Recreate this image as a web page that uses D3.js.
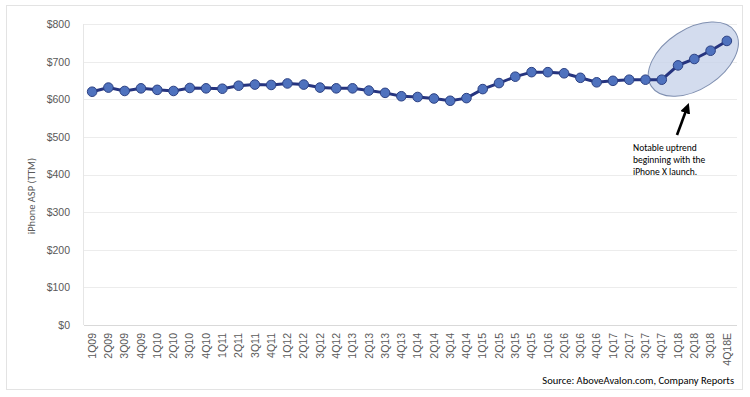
<!DOCTYPE html>
<html>
<head>
<meta charset="utf-8">
<script src="https://cdn.jsdelivr.net/npm/d3@7"></script>
<style>
  body { margin: 0; background: #fff; }
  svg { display: block; font-family: Carlito, Calibri, Lato, "Open Sans", sans-serif; }
</style>
</head>
<body>
<div id="chart"></div>
<script>
const quarters = ['1Q09','2Q09','3Q09','4Q09','1Q10','2Q10','3Q10','4Q10','1Q11','2Q11',
  '3Q11','4Q11','1Q12','2Q12','3Q12','4Q12','1Q13','2Q13','3Q13','4Q13',
  '1Q14','2Q14','3Q14','4Q14','1Q15','2Q15','3Q15','4Q15','1Q16','2Q16',
  '3Q16','4Q16','1Q17','2Q17','3Q17','4Q17','1Q18','2Q18','3Q18','4Q18E'];
const asp = [620, 631, 622, 629, 625, 622, 630, 629, 628, 636,
  639, 638, 642, 639, 631, 629, 629, 623, 617, 608,
  606, 602, 596, 603, 627, 643, 660, 672, 672, 669,
  657, 645, 649, 652, 652, 652, 690, 707, 729, 755];
const yTicks = [0, 100, 200, 300, 400, 500, 600, 700, 800];
const noteLines = ['Notable uptrend', 'beginning with the', 'iPhone X launch.'];
const highlightFrom = '1Q18';

const width = 750, height = 397;
const plot = { left: 84, right: 735, top: 24, bottom: 325 };

const svg = d3.select('#chart').append('svg')
  .attr('width', width)
  .attr('height', height);

// chart frame
svg.append('rect')
  .attr('x', 6.5).attr('y', 5.5)
  .attr('width', 736).attr('height', 384)
  .attr('fill', '#fff')
  .attr('stroke', '#e3e3e3');

const x = d3.scaleBand().domain(quarters).range([plot.left, plot.right]);
const y = d3.scaleLinear().domain([0, 800]).range([plot.bottom, plot.top]);
const cx = d => x(d) + x.bandwidth() / 2;

// gridlines
svg.append('g')
  .selectAll('line')
  .data(yTicks)
  .enter()
  .append('line')
  .attr('x1', plot.left).attr('x2', plot.right + 2)
  .attr('y1', d => Math.round(y(d)) + 0.5)
  .attr('y2', d => Math.round(y(d)) + 0.5)
  .attr('stroke', d => d === 0 ? '#d9d9d9' : '#ececec');

svg.append('line')
  .attr('x1', plot.left - 0.5).attr('x2', plot.left - 0.5)
  .attr('y1', plot.top).attr('y2', plot.bottom)
  .attr('stroke', '#e6e6e6');

// y axis
const yAxis = svg.append('g')
  .attr('transform', `translate(${plot.left - 11},0)`)
  .call(d3.axisLeft(y).tickValues(yTicks).tickSize(0).tickFormat(d => '$' + d));
yAxis.select('.domain').remove();
yAxis.selectAll('text')
  .attr('fill', '#595959')
  .style('font-size', '10.5px');

// x axis
const xAxis = svg.append('g')
  .attr('transform', `translate(0,${plot.bottom + 6})`)
  .call(d3.axisBottom(x).tickSize(0));
xAxis.select('.domain').remove();
xAxis.selectAll('text')
  .attr('fill', '#595959')
  .style('font-size', '10.5px')
  .style('text-anchor', 'end')
  .attr('dy', '0.35em')
  .attr('transform', 'rotate(-90)')
  .attr('x', -2)
  .attr('y', 0);

// axis title
svg.append('text')
  .attr('transform', 'translate(35,196)rotate(-90)')
  .attr('text-anchor', 'middle')
  .attr('fill', '#595959')
  .style('font-size', '10.5px')
  .text('iPhone ASP (TTM)');

// highlight ellipse around the recent quarters
const hiIdx = quarters.indexOf(highlightFrom);
const hiPts = quarters.slice(hiIdx - 1).map((q, i) => [cx(q), y(asp[hiIdx - 1 + i])]);
const ex = d3.mean(hiPts, p => p[0]) - 1;
const ey = d3.mean(hiPts, p => p[1]);
svg.append('ellipse')
  .attr('transform', `translate(${ex},${ey})rotate(-33)`)
  .attr('rx', 50).attr('ry', 30)
  .attr('fill', '#c8d3ea')
  .attr('fill-opacity', 0.8)
  .attr('stroke', '#7f8fb0')
  .attr('stroke-width', 1);

// line
const line = d3.line()
  .x((d, i) => cx(quarters[i]))
  .y(d => y(d));

svg.append('path')
  .datum(asp)
  .attr('fill', 'none')
  .attr('stroke', '#26347f')
  .attr('stroke-width', 3)
  .attr('d', line);

svg.append('g')
  .selectAll('circle')
  .data(asp)
  .enter()
  .append('circle')
  .attr('cx', (d, i) => cx(quarters[i]))
  .attr('cy', d => y(d))
  .attr('r', 4.8)
  .attr('fill', '#4f72be')
  .attr('stroke', '#2c4183')
  .attr('stroke-width', 1);

// annotation arrow
svg.append('defs').append('marker')
  .attr('id', 'head')
  .attr('viewBox', '0 0 10 10')
  .attr('refX', 5).attr('refY', 5)
  .attr('markerWidth', 4).attr('markerHeight', 4)
  .attr('orient', 'auto')
  .append('path')
  .attr('d', 'M0,0L10,5L0,10Z')
  .attr('fill', '#000');

svg.append('line')
  .attr('x1', 677).attr('y1', 135)
  .attr('x2', 687).attr('y2', 108)
  .attr('stroke', '#000')
  .attr('stroke-width', 2.6)
  .attr('marker-end', 'url(#head)');

svg.append('g')
  .selectAll('text')
  .data(noteLines)
  .enter()
  .append('text')
  .attr('x', 633)
  .attr('y', (d, i) => 151 + i * 12)
  .attr('fill', '#000')
  .style('font-size', '9.5px')
  .text(d => d);

// source
svg.append('text')
  .attr('x', 734).attr('y', 384)
  .attr('text-anchor', 'end')
  .attr('fill', '#000')
  .style('font-size', '10.5px')
  .text('Source: AboveAvalon.com, Company Reports');
</script>
</body>
</html>
